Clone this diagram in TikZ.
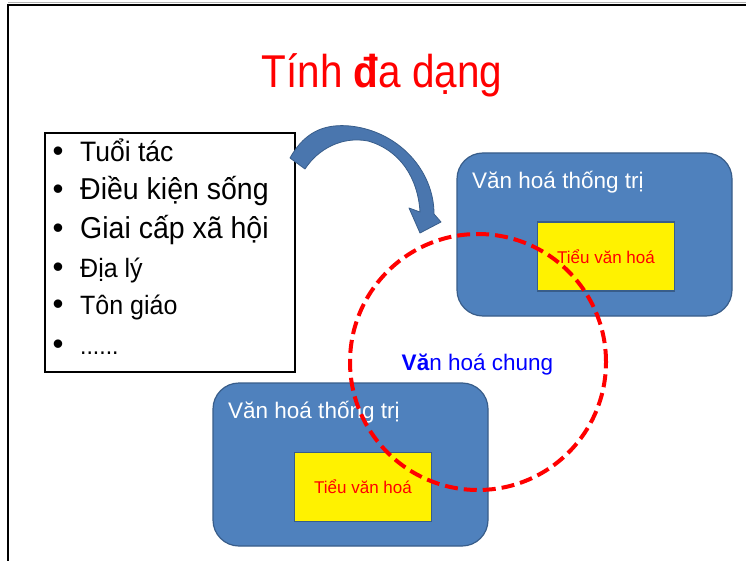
\documentclass[tikz,border=0pt]{standalone}
\usepackage{fontspec}
\setmainfont{Liberation Sans}
\definecolor{boxblue}{RGB}{79,129,189}
\definecolor{boxedge}{RGB}{56,93,138}
\definecolor{arrowblue}{RGB}{74,118,174}
\definecolor{chungblue}{RGB}{0,0,255}
\begin{document}
\begin{tikzpicture}[x=1pt,y=-1pt,
  bluebox/.style={draw=boxedge, line width=1.2pt, fill=boxblue, rounded corners=26pt,
    minimum width=275pt, minimum height=163pt, inner sep=0pt},
  yellowbox/.style={draw=boxedge, line width=1.2pt, fill=yellow, minimum width=137pt,
    minimum height=69pt, inner sep=0pt, text=red, font=\fontsize{17}{20}\selectfont},
  boxlabel/.style={anchor=base west, text=white, font=\fontsize{22.5}{26}\selectfont, inner sep=0pt},
  item/.style={anchor=base west, inner sep=0pt, yscale=1.06},
  bulletmark/.style={anchor=base, inner sep=0pt, scale=1.2},
  frameline/.style={line width=2pt, black},
]
\useasboundingbox (0,0) rectangle (746,561);
\fill[white] (0,0) rectangle (746,561);
% frame
\coordinate (fTL) at (8,5);
\coordinate (fTR) at (746,5);
\coordinate (fBL) at (8,561);
\draw[gray!60, line width=1pt] (8,3) -- (746,3);
\draw[frameline] (fTR) -- (fTL) -- (fBL);
% title
\node[anchor=base, text=red, xscale=0.88, inner sep=0pt, font=\fontsize{46}{52}\selectfont] (title) at (382,88) {Tính \textbf{đ}a dạng};
% list box
\node[draw, line width=1.6pt, minimum width=250pt, minimum height=239pt, inner sep=0pt] (list) at (170,252.5) {};
\node[bulletmark, font=\fontsize{26}{30}\selectfont] (b1) at (58,162) {•};
\node[item, font=\fontsize{26.5}{30}\selectfont] (i1) at (80,162) {Tuổi tác};
\node[bulletmark, font=\fontsize{26}{30}\selectfont] (b2) at (58,200) {•};
\node[item, font=\fontsize{28.5}{32}\selectfont] (i2) at (80,200) {Điều kiện sống};
\node[bulletmark, font=\fontsize{26}{30}\selectfont] (b3) at (58,238) {•};
\node[item, font=\fontsize{28.5}{32}\selectfont] (i3) at (80,238) {Giai cấp xã hội};
\node[bulletmark, font=\fontsize{26}{30}\selectfont] (b4) at (58,277) {•};
\node[item, font=\fontsize{25}{30}\selectfont] (i4) at (80,277) {Địa lý};
\node[bulletmark, font=\fontsize{26}{30}\selectfont] (b5) at (58,314) {•};
\node[item, font=\fontsize{25}{30}\selectfont] (i5) at (80,314) {Tôn giáo};
\node[bulletmark, font=\fontsize{26}{30}\selectfont] (b6) at (58,354) {•};
\node[item, font=\fontsize{23}{28}\selectfont] (i6) at (80,354) {......};
% curved arrow
\draw[fill=arrowblue, draw=boxedge, line width=0.8pt, line join=round]
  (290,158) .. controls (306,129) and (328,124) .. (350,126)
  .. controls (398,131) and (434,170) .. (434,214)
  -- (441,222) -- (420,233) -- (409,208)
  -- (420,212) .. controls (418,178) and (400,150) .. (368,141)
  .. controls (342,136) and (318,149) .. (305,169) -- cycle;
% dominant culture boxes
\node[bluebox] (top) at (594.5,234.5) {};
\node[boxlabel] (toplabel) at (472,189) {Văn hoá thống trị};
\node[yellowbox] (topsub) at (606,256.5) {Tiểu văn hoá};
\node[bluebox] (bot) at (350.5,464.5) {};
\node[boxlabel] (botlabel) at (228,418) {Văn hoá thống trị};
\node[yellowbox] (botsub) at (363,487) {Tiểu văn hoá};
% common culture circle
\node[circle, draw=red, line width=4pt, dash pattern=on 13pt off 6pt, minimum size=256pt, inner sep=0pt] (chung) at (478,362) {};
\node[anchor=base, inner sep=0pt, text=chungblue, font=\fontsize{22.5}{26}\selectfont] (chunglabel) at (477.5,370) {\textbf{Vă}n hoá chung};
\end{tikzpicture}
\end{document}
